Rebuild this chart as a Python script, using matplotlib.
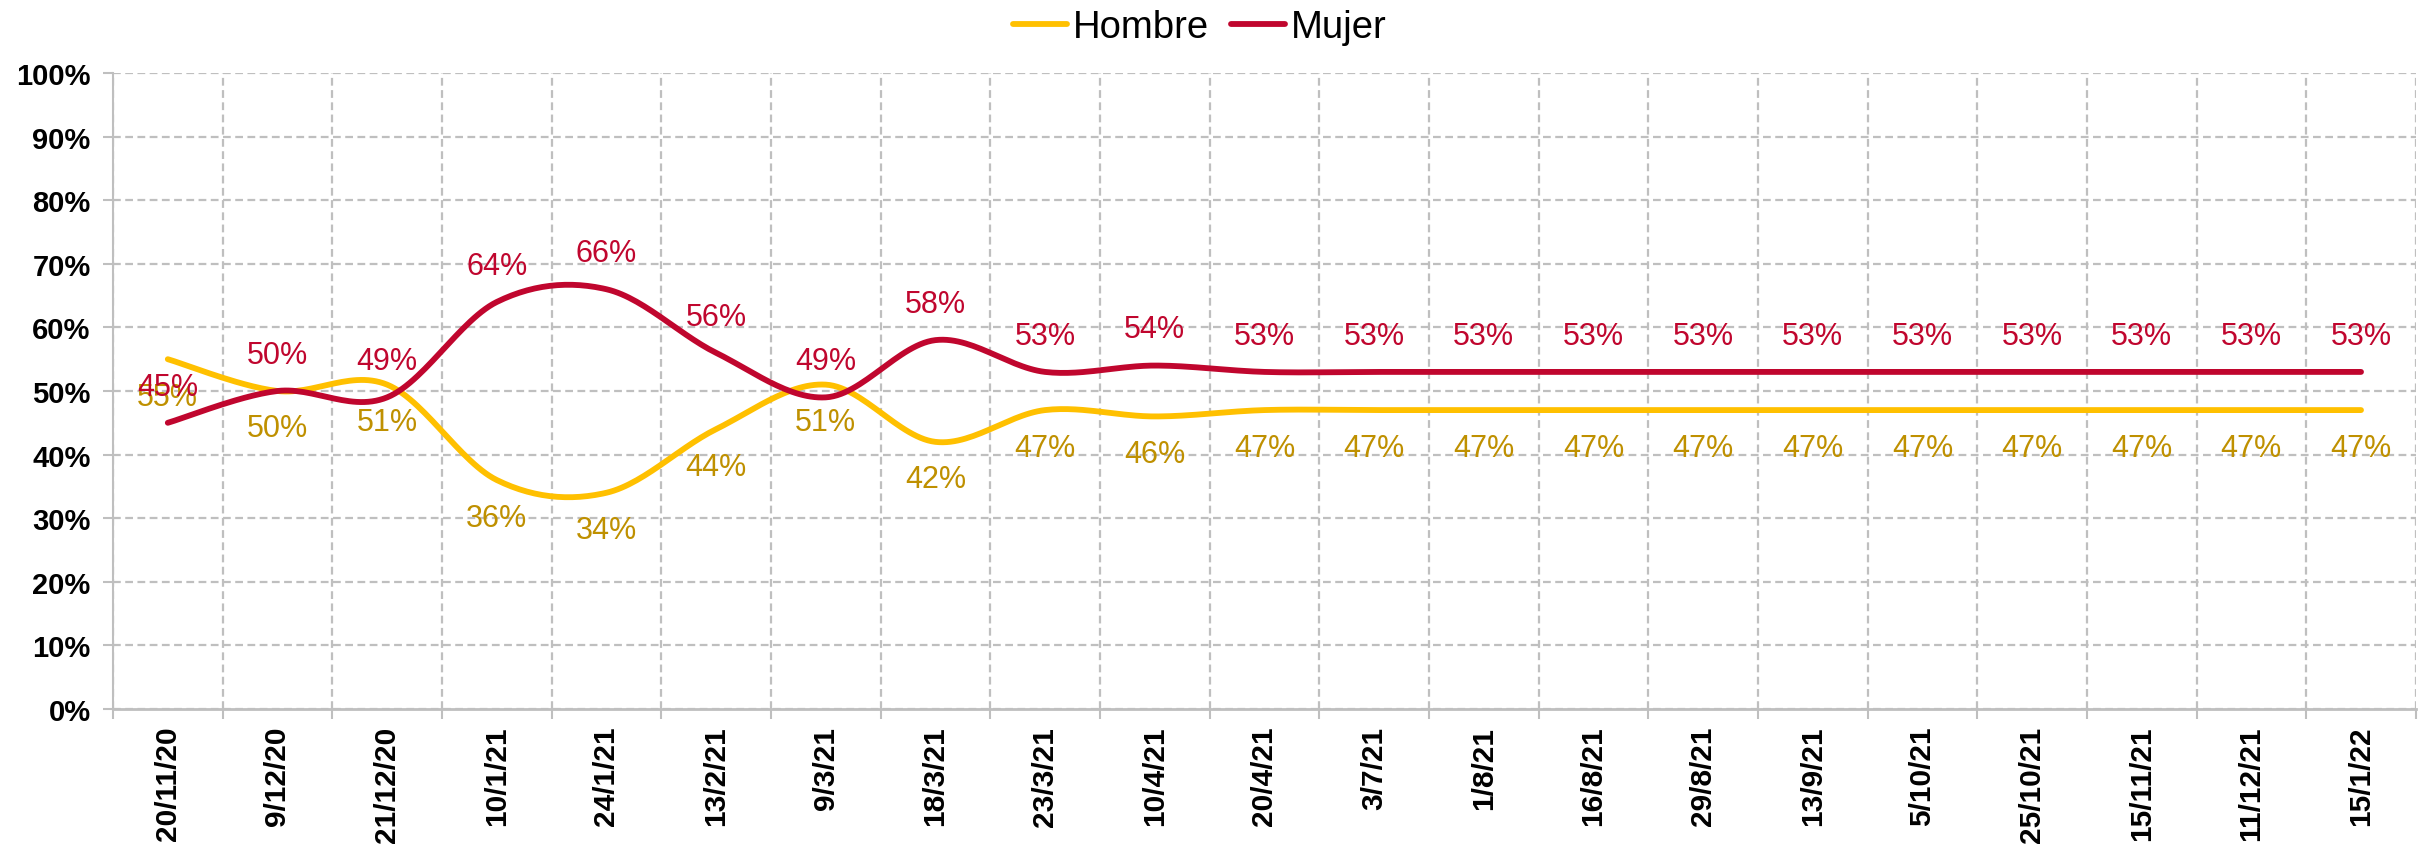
import numpy as np
import matplotlib
matplotlib.use("Agg")
import matplotlib.pyplot as plt
from matplotlib.ticker import FixedLocator, PercentFormatter

fechas = ["20/11/20", "9/12/20", "21/12/20", "10/1/21", "24/1/21", "13/2/21", "9/3/21",
          "18/3/21", "23/3/21", "10/4/21", "20/4/21", "3/7/21", "1/8/21", "16/8/21",
          "29/8/21", "13/9/21", "5/10/21", "25/10/21", "15/11/21", "11/12/21", "15/1/22"]
hombre = [55, 50, 51, 36, 34, 44, 51, 42, 47, 46, 47, 47, 47, 47, 47, 47, 47, 47, 47, 47, 47]
mujer = [45, 50, 49, 64, 66, 56, 49, 58, 53, 54, 53, 53, 53, 53, 53, 53, 53, 53, 53, 53, 53]

COL_H = "#FFC000"
COL_H_TXT = "#BF9000"
COL_M = "#C0062E"
GRID = "#BFBFBF"

plt.rcParams["font.family"] = ["Liberation Sans", "DejaVu Sans"]


def smooth(ys, n=30):
    # Excel-style smoothed line: Catmull-Rom segments as cubic Beziers
    ys = np.asarray(ys, dtype=float)
    xs = np.arange(len(ys), dtype=float)
    px = np.concatenate([[xs[0]], xs, [xs[-1]]])
    py = np.concatenate([[ys[0]], ys, [ys[-1]]])
    outx, outy = [], []
    t = np.linspace(0, 1, n)
    for i in range(len(ys) - 1):
        p0 = np.array([px[i + 1], py[i + 1]])
        p3 = np.array([px[i + 2], py[i + 2]])
        c1 = p0 + (p3 - np.array([px[i], py[i]])) / 6
        c2 = p3 - (np.array([px[i + 3], py[i + 3]]) - p0) / 6
        for tt in t:
            b = ((1 - tt) ** 3) * p0 + 3 * ((1 - tt) ** 2) * tt * c1 + 3 * (1 - tt) * tt ** 2 * c2 + tt ** 3 * p3
            outx.append(b[0])
            outy.append(b[1])
    return np.array(outx), np.array(outy)


fig = plt.figure(figsize=(24.19, 8.45), dpi=100)
ax = fig.add_axes([0.0467, 0.1598, 0.9520, 0.7526])

x = np.arange(len(fechas))
hx, hy = smooth(hombre)
mx, my = smooth(mujer)
ax.plot(hx, hy, color=COL_H, lw=4.2, solid_capstyle="round", label="Hombre", zorder=3)
ax.plot(mx, my, color=COL_M, lw=4.2, solid_capstyle="round", label="Mujer", zorder=3)

for i in x:
    ax.annotate(f"{hombre[i]}%", (i, hombre[i]), xytext=(0, -27), textcoords="offset points",
                ha="center", va="center", fontsize=22, color=COL_H_TXT, zorder=4)
    ax.annotate(f"{mujer[i]}%", (i, mujer[i]), xytext=(0, 26), textcoords="offset points",
                ha="center", va="center", fontsize=22, color=COL_M, zorder=4)

ax.set_xlim(-0.5, len(fechas) - 0.5)
ax.set_ylim(0, 100)
ax.yaxis.set_major_locator(FixedLocator(np.arange(0, 101, 10)))
ax.yaxis.set_major_formatter(PercentFormatter(decimals=0))
ax.set_xticks(x)
ax.set_xticklabels(fechas, rotation=90, fontsize=21.5, fontweight="bold", va="top", ha="center")
ax.set_xticks(np.arange(-0.5, len(fechas), 1), minor=True)

ax.tick_params(axis="x", which="major", length=0, pad=12)
ax.tick_params(axis="x", which="minor", length=7, width=1.5, color=GRID, direction="out")
ax.tick_params(axis="y", length=7, width=1.5, color=GRID, pad=9, labelsize=21)
for lab in ax.get_yticklabels():
    lab.set_fontweight("bold")

ax.grid(True, axis="y", which="major", color=GRID, lw=1.6, ls=(0, (3.5, 2)), zorder=1)
ax.grid(True, axis="x", which="minor", color=GRID, lw=1.6, ls=(0, (3.5, 2)), zorder=1)
ax.grid(False, axis="x", which="major")

for s in ("top", "right"):
    ax.spines[s].set_visible(False)
ax.spines["left"].set_color(GRID)
ax.spines["left"].set_linewidth(1.5)
ax.spines["bottom"].set_color(GRID)
ax.spines["bottom"].set_linewidth(2)

fig.legend(loc="center", bbox_to_anchor=(0.496, 0.967), ncol=2, frameon=False, fontsize=27.5,
           handlelength=1.4, handletextpad=0.15, columnspacing=0.6)

fig.savefig("out.png", dpi=100, facecolor="white")
